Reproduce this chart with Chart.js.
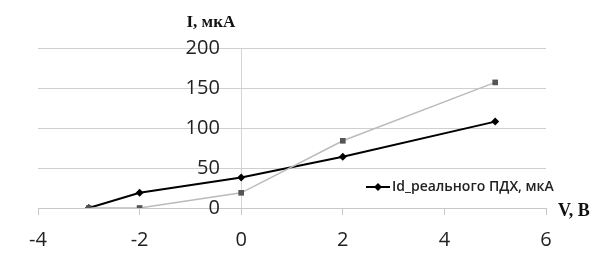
<!DOCTYPE html>
<html>
<head>
<meta charset="utf-8">
<script src="https://cdn.jsdelivr.net/npm/chart.js@4/dist/chart.umd.min.js"></script>
<style>
  html, body { margin: 0; padding: 0; background: #fff; }
  #wrap { width: 598px; height: 256px; }
</style>
</head>
<body>
<div id="wrap"><canvas id="chart"></canvas></div>
<script>
// readings from the picture
const voltage = [-3, -2, 0, 2, 5];
const currentReal = [0, 19, 38, 64, 108];
const currentIdeal = [0, 0, 19, 84, 157];
const realLabel = 'Id_реального ПДХ, мкА';
const yTitle = 'I, мкА';
const xTitle = 'V, В';

function toPoints(xs, ys) {
  return xs.map((x, i) => ({x: x, y: ys[i]}));
}

// axis titles + single legend entry drawn inside plot, Excel style
const extras = {
  id: 'extras',
  afterDraw(chart) {
    const ctx = chart.ctx;
    const area = chart.chartArea;
    const xs = chart.scales.x;
    ctx.save();
    ctx.fillStyle = '#111';
    ctx.font = 'bold 17px "Liberation Serif"';
    ctx.textAlign = 'right';
    ctx.textBaseline = 'alphabetic';
    ctx.fillText(yTitle, xs.getPixelForValue(0) - 6, 27);
    ctx.font = 'bold 18px "Liberation Serif"';
    ctx.textAlign = 'left';
    ctx.textBaseline = 'middle';
    ctx.fillText(xTitle, area.right + 12, area.bottom + 3);

    // legend
    const ds = chart.data.datasets[0];
    const lx = 366, ly = 187;
    ctx.strokeStyle = ds.borderColor;
    ctx.lineWidth = 2;
    ctx.beginPath();
    ctx.moveTo(lx, ly);
    ctx.lineTo(lx + 24, ly);
    ctx.stroke();
    ctx.fillStyle = ds.pointBackgroundColor;
    ctx.beginPath();
    ctx.moveTo(lx + 12, ly - 4);
    ctx.lineTo(lx + 16, ly);
    ctx.lineTo(lx + 12, ly + 4);
    ctx.lineTo(lx + 8, ly);
    ctx.closePath();
    ctx.fill();
    ctx.fillStyle = '#222';
    ctx.font = '600 14px "Open Sans"';
    ctx.textAlign = 'left';
    ctx.fillText(ds.label, lx + 26, ly);
    ctx.restore();
  }
};

const config = {
  type: 'line',
  data: {
    datasets: [
      {
        label: realLabel,
        data: toPoints(voltage, currentReal),
        borderColor: '#000',
        borderWidth: 2,
        pointStyle: 'rectRot',
        pointRadius: 4,
        pointBackgroundColor: '#000',
        pointBorderWidth: 0,
        order: 2
      },
      {
        label: 'ideal',
        data: toPoints(voltage, currentIdeal),
        borderColor: '#bbbbbb',
        borderWidth: 1.5,
        pointStyle: 'rect',
        pointRadius: 4,
        pointBackgroundColor: '#555',
        pointBorderWidth: 0,
        order: 1
      }
    ]
  },
  options: {
    responsive: true,
    maintainAspectRatio: false,
    animation: false,
    layout: {
      padding: {left: 38, right: 52, top: 48, bottom: 1}
    },
    plugins: {
      legend: {display: false},
      tooltip: {enabled: false}
    },
    scales: {
      x: {
        type: 'linear',
        min: -4,
        max: 6,
        afterFit: s => { s.height = 47; },
        ticks: {
          stepSize: 2,
          color: '#222',
          padding: 13,
          font: {family: 'Open Sans', size: 20}
        },
        grid: {
          drawOnChartArea: true,
          drawTicks: true,
          tickLength: 7,
          // only the vertical line at V = 0 is shown, like Excel's crossing axis
          color: c => (c.tick && c.tick.value === 0) ? '#d4d4d4' : 'rgba(0,0,0,0)',
          tickColor: '#c8c8c8'
        },
        border: {color: '#c8c8c8', width: 1}
      },
      y: {
        // labels sit a bit left of the V = 0 line
        position: {x: -0.42},
        min: 0,
        max: 200,
        ticks: {
          stepSize: 50,
          color: '#222',
          font: {family: 'Open Sans', size: 20}
        },
        grid: {
          color: '#cfcfcf',
          drawTicks: false
        },
        border: {display: false}
      }
    }
  },
  plugins: [extras]
};

new Chart(document.getElementById('chart'), config);
</script>
</body>
</html>
